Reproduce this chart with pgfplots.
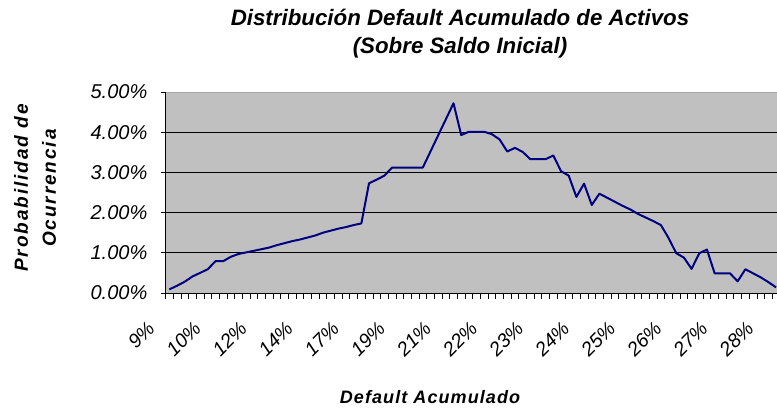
\documentclass[border=0pt]{standalone}
\usepackage{pgfplots}
\pgfplotsset{compat=1.18}
\usepackage{fontspec}
\setmainfont{Liberation Sans}
\newfontfamily\lsfont[LetterSpace=6]{Liberation Sans}
\newfontfamily\lsfonty[LetterSpace=10]{Liberation Sans}
\definecolor{plotbg}{RGB}{192,192,192}
\definecolor{navyline}{RGB}{0,0,128}
\pgfplotstableread{
i v
0 0.09
1 0.18
2 0.28
3 0.41
4 0.50
5 0.59
6 0.79
7 0.79
8 0.90
9 0.97
10 1.01
11 1.05
12 1.09
13 1.13
14 1.19
15 1.24
16 1.29
17 1.33
18 1.38
19 1.43
20 1.50
21 1.55
22 1.60
23 1.64
24 1.69
25 1.73
26 2.73
27 2.82
28 2.92
29 3.12
30 3.12
31 3.12
32 3.12
33 3.12
34 3.52
35 3.92
36 4.32
37 4.72
38 3.93
39 4.01
40 4.01
41 4.01
42 3.95
43 3.82
44 3.52
45 3.61
46 3.51
47 3.33
48 3.33
49 3.33
50 3.42
51 3.03
52 2.92
53 2.39
54 2.72
55 2.19
56 2.47
57 2.37
58 2.27
59 2.17
60 2.08
61 1.97
62 1.88
63 1.79
64 1.69
65 1.37
66 0.99
67 0.88
68 0.60
69 0.99
70 1.08
71 0.49
72 0.49
73 0.49
74 0.29
75 0.59
76 0.49
77 0.39
78 0.27
79 0.14
}\datatable
\begin{document}
\begin{tikzpicture}[x=1pt,y=1pt]
\path[use as bounding box] (0,0) rectangle (777,409);
\begin{axis}[
  at={(165.5pt,116pt)}, anchor=south west,
  scale only axis, width=611.5pt, height=201pt,
  xmin=-0.5, xmax=79.12, ymin=0, ymax=5,
  axis x line*=bottom, axis y line*=left,
  axis line style={black, line width=0.8pt},
  axis background/.style={fill=plotbg},
  tick align=outside,
  xtick={0,6,...,78},
  xticklabels={9\%,10\%,12\%,14\%,17\%,19\%,21\%,22\%,23\%,24\%,25\%,26\%,27\%,28\%},
  minor xtick={-0.5,0.5,...,79},
  major tick length=0pt,
  minor tick length=6pt,
  every minor tick/.style={black, line width=0.7pt},
  xticklabel style={font=\fontsize{19.5}{19.5}\selectfont\itshape, inner sep=0pt, xshift=-18pt, yshift=-32pt, rotate=45, anchor=east},
  ytick={0,1,2,3,4,5},
  yticklabels={0.00\%,1.00\%,2.00\%,3.00\%,4.00\%,5.00\%},
  extra y ticks={0,1,2,3,4,5},
  extra y tick labels={},
  extra y tick style={major tick length=5pt, tick style={black, line width=0.7pt}, grid=none},
  yticklabel style={font=\fontsize{20}{20}\selectfont\itshape, inner sep=0pt, anchor=east, xshift=-18pt},
  ymajorgrids,
  major grid style={black, line width=0.8pt},
  clip=false,
]
\draw[gray!70, line width=0.8pt] (rel axis cs:0,1) -- (rel axis cs:1,1);
\addplot[navyline, line width=2pt, line join=round] table[x=i, y=v] {\datatable};
\end{axis}
\node[font=\fontsize{22.3}{28}\selectfont\bfseries\itshape, align=center] at (460,375) {Distribución Default Acumulado de Activos\\(Sobre Saldo Inicial)};
\node[font=\lsfonty\fontsize{19}{28}\selectfont\bfseries\itshape, align=center, rotate=90] at (35,221) {Probabilidad de\\Ocurrencia};
\node[font=\lsfont\fontsize{18}{18}\selectfont\bfseries\itshape] at (430,12) {Default Acumulado};
\end{tikzpicture}
\end{document}
